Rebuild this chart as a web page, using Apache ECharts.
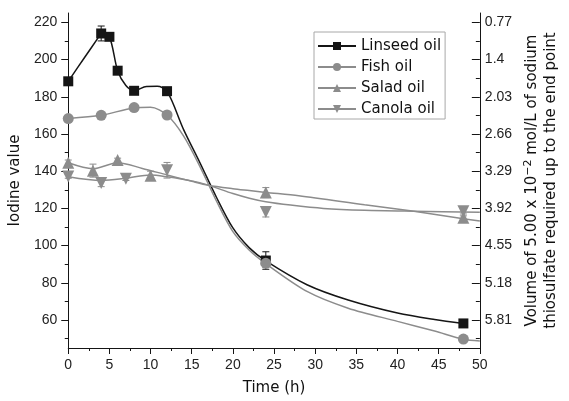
<!DOCTYPE html>
<html>
<head>
<meta charset="utf-8">
<script src="https://cdn.jsdelivr.net/npm/echarts@6/dist/echarts.min.js"></script>
<style>
    html, body { margin: 0; padding: 0; background: #fff; }
    #chart { width: 569px; height: 401px; }
</style>
</head>
<body>
<div id="chart"></div>
<script>
    // measured points (time in h, iodine value, error)
    var linseedHours = [0, 4, 5, 6, 8, 12, 24, 48];
    var linseedVals = [188.3, 214, 212.2, 194, 183.2, 183, 92, 58.2];
    var linseedErr = [1, 4, 1, 1, 1, 1, 4.7, 1];

    var fishHours = [0, 4, 8, 12, 24, 48];
    var fishVals = [168.3, 170, 174.2, 170.2, 90.5, 49.8];
    var fishErr = [1, 1, 1, 1.5, 1, 1];

    var saladHours = [0, 3, 6, 10, 24, 48];
    var saladVals = [144.5, 140.3, 146, 137.5, 128.5, 115];
    var saladErr = [1.5, 3.5, 1, 2.5, 2.7, 1];

    var canolaHours = [0, 4, 7, 12, 24, 48];
    var canolaVals = [137.2, 133.7, 136, 140.5, 118.1, 118.5];
    var canolaErr = [1, 2, 1, 4.2, 2.7, 1.5];

    // fitted curves
    var linseedCurve = [[0, 188.3], [2, 201.2], [3.6, 211.5], [4, 214], [5, 212.2], [6, 194], [7, 186], [8, 183.2],
        [9.5, 185.5], [10.8, 185.6], [12, 183], [14, 162.5], [16, 144.5], [18, 126], [20, 109.5], [22, 98.8],
        [24, 91.8], [29, 79], [34, 70.8], [40, 63.8], [44.5, 60.3], [48, 58.2]];
    var fishCurve = [[0, 168.3], [4, 170], [8, 174], [10, 174.3], [12, 170.2], [14, 159], [16, 142.5], [18, 124],
        [20, 107.5], [22, 97.5], [24, 90.3], [29, 75.4], [34, 66.4], [40, 59.3], [44.5, 54.1], [48, 49.7], [50, 48.8]];
    var saladCurve = [[0, 144.5], [3, 141.3], [6, 144.6], [9, 141.5], [12, 138], [15, 134.6], [17, 132.5],
        [20, 130.6], [22, 129.6], [24, 128.6], [28, 126.8], [36, 122], [42, 118.5], [48, 114.5], [50, 113.2]];
    var canolaCurve = [[0, 137], [4, 135], [7, 136.2], [10, 138], [12, 137], [15, 134.8], [17, 132.5], [20, 128],
        [22, 125.5], [24, 123.6], [27, 121.8], [31, 120], [36, 119], [42, 118.5], [50, 118]];

    // axis labels
    var leftLabels = [60, 80, 100, 120, 140, 160, 180, 200, 220];
    var leftMinor = [50, 70, 90, 110, 130, 150, 170, 190, 210];
    var rightLabels = [0.77, 1.4, 2.03, 2.66, 3.29, 3.92, 4.55, 5.18, 5.81];
    var rightMinor = [1.085, 1.715, 2.345, 2.975, 3.605, 4.235, 4.865, 5.495, 6.125];

    var BLACK = '#151515';
    var GREY = '#8c8c8c';
    var TICK_FONT = 'Liberation Sans';
    var NAME_FONT = 'DejaVu Sans';

    function pairs(xs, ys) {
        return xs.map(function (x, i) { return [x, ys[i]]; });
    }
    function triples(xs, ys, es) {
        return xs.map(function (x, i) { return [x, ys[i], es[i]]; });
    }

    function errorBar(name, color, data) {
        return {
            name: name,
            type: 'custom',
            z: 3,
            silent: true,
            data: data,
            renderItem: function (params, api) {
                var x = api.value(0), y = api.value(1), e = api.value(2);
                var top = api.coord([x, y + e]);
                var bot = api.coord([x, y - e]);
                var w = 3.5;
                var style = { stroke: color, lineWidth: 1 };
                return {
                    type: 'group',
                    children: [
                        { type: 'line', shape: { x1: top[0], y1: top[1], x2: bot[0], y2: bot[1] }, style: style },
                        { type: 'line', shape: { x1: top[0] - w, y1: top[1], x2: top[0] + w, y2: top[1] }, style: style },
                        { type: 'line', shape: { x1: bot[0] - w, y1: bot[1], x2: bot[0] + w, y2: bot[1] }, style: style }
                    ]
                };
            }
        };
    }

    function oil(name, color, symbol, size, rotate, curve, points, errs) {
        return [
            {
                name: name,
                type: 'line',
                data: curve,
                smooth: 0.3,
                symbol: symbol,
                symbolSize: size,
                symbolRotate: rotate,
                showSymbol: false,
                lineStyle: { color: color, width: 1.5 },
                itemStyle: { color: color },
                z: 2
            },
            errorBar(name, color, errs),
            {
                name: name,
                type: 'scatter',
                data: points,
                symbol: symbol,
                symbolSize: size,
                symbolRotate: rotate,
                itemStyle: { color: color, opacity: 1 },
                z: 4
            }
        ];
    }

    var chart = echarts.init(document.getElementById('chart'));

    var series = [].concat(
        oil('Linseed oil', BLACK, 'rect', 10, 0, linseedCurve,
            pairs(linseedHours, linseedVals), triples(linseedHours, linseedVals, linseedErr)),
        oil('Fish oil', GREY, 'circle', 11, 0, fishCurve,
            pairs(fishHours, fishVals), triples(fishHours, fishVals, fishErr)),
        oil('Salad oil', GREY, 'triangle', 12, 0, saladCurve,
            pairs(saladHours, saladVals), triples(saladHours, saladVals, saladErr)),
        oil('Canola oil', GREY, 'triangle', 12, 180, canolaCurve,
            pairs(canolaHours, canolaVals), triples(canolaHours, canolaVals, canolaErr))
    );

    var option = {
        animation: false,
        backgroundColor: '#fff',
        grid: { left: 66, right: 83, top: 13, bottom: 50 },
        legend: {
            data: ['Linseed oil', 'Fish oil', 'Salad oil', 'Canola oil'],
            orient: 'vertical',
            left: 314,
            top: 32,
            padding: [6, 4, 2, 3],
            itemWidth: 38,
            itemHeight: 10,
            itemGap: 5,
            borderColor: '#a8a8a8',
            borderWidth: 1,
            textStyle: { fontFamily: NAME_FONT, fontSize: 15, color: '#111', lineHeight: 16 }
        },
        xAxis: {
            type: 'value',
            min: 0,
            max: 50,
            interval: 5,
            name: 'Time (h)',
            nameLocation: 'middle',
            nameGap: 33,
            nameTextStyle: { fontFamily: NAME_FONT, fontSize: 15, color: '#111' },
            axisLine: { lineStyle: { color: BLACK, width: 1 } },
            axisTick: { length: 6, lineStyle: { color: BLACK } },
            minorTick: { show: true, splitNumber: 2, length: 3, lineStyle: { color: BLACK } },
            axisLabel: { fontFamily: TICK_FONT, fontSize: 14, color: '#222', margin: 10 },
            splitLine: { show: false }
        },
        yAxis: [
            {
                type: 'value',
                position: 'left',
                min: 45,
                max: 225,
                name: 'Iodine value',
                nameLocation: 'middle',
                nameGap: 41,
                nameTextStyle: { fontFamily: NAME_FONT, fontSize: 15, color: '#111' },
                axisLine: { show: true, lineStyle: { color: BLACK, width: 1 } },
                axisTick: { show: true, length: 7, customValues: leftLabels, lineStyle: { color: BLACK } },
                axisLabel: { customValues: leftLabels, fontFamily: TICK_FONT, fontSize: 14, color: '#222', margin: 11 },
                splitLine: { show: false }
            },
            {
                type: 'value',
                position: 'right',
                inverse: true,
                min: 0.6125,
                max: 6.2825,
                name: 'Volume of 5.00 x 10{sup|\u22122} mol/L of sodium\nthiosulfate required up to the end point',
                nameLocation: 'middle',
                nameGap: 42,
                nameTextStyle: {
                    fontFamily: NAME_FONT, fontSize: 15, color: '#111', lineHeight: 19,
                    rich: {
                        sup: { fontFamily: NAME_FONT, fontSize: 11, color: '#111', verticalAlign: 'top', lineHeight: 12, padding: [0, 0, 6, 0] }
                    }
                },
                axisLine: { show: true, lineStyle: { color: BLACK, width: 1 } },
                axisTick: { show: true, inside: true, length: 8, customValues: rightLabels, lineStyle: { color: BLACK } },
                axisLabel: {
                    customValues: rightLabels, fontFamily: TICK_FONT, fontSize: 14, color: '#222', margin: 5,
                    formatter: function (v) { return String(v); }
                },
                splitLine: { show: false }
            },
            {
                // minor ticks, left
                type: 'value',
                position: 'left',
                min: 45,
                max: 225,
                axisLine: { show: false },
                axisTick: { show: true, length: 3.5, customValues: leftMinor, lineStyle: { color: BLACK } },
                axisLabel: { show: false },
                splitLine: { show: false }
            },
            {
                // minor ticks, right
                type: 'value',
                position: 'right',
                inverse: true,
                min: 0.6125,
                max: 6.2825,
                axisLine: { show: false },
                axisTick: { show: true, inside: true, length: 4, customValues: rightMinor, lineStyle: { color: BLACK } },
                axisLabel: { show: false },
                splitLine: { show: false }
            }
        ],
        series: series
    };

    chart.setOption(option);
</script>
</body>
</html>
